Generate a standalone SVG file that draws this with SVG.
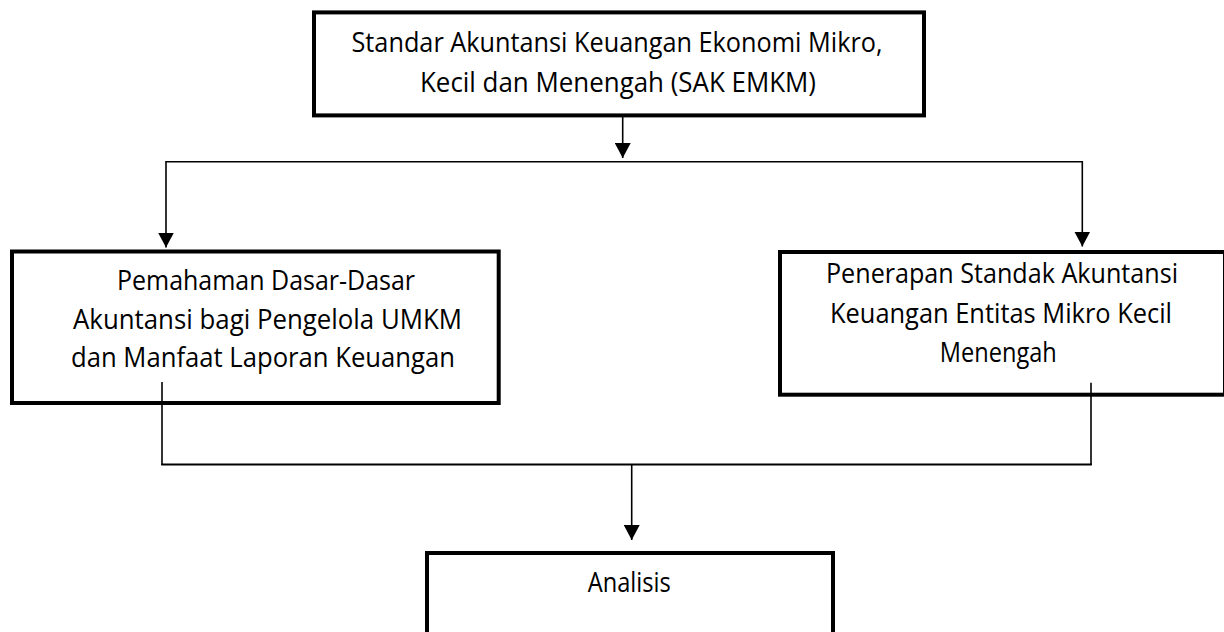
<svg xmlns="http://www.w3.org/2000/svg" width="1224" height="632" viewBox="0 0 1224 632">
<style>
.box{fill:#fff;stroke:#000;stroke-width:4}
.t{font-family:"Open Sans","Noto Sans","Liberation Sans",sans-serif;font-size:27px;fill:#000;text-anchor:middle}
.c{fill:none;stroke:#000;stroke-width:1.6}
.h{fill:none;stroke:#000;stroke-width:2}
</style>
<defs>
<marker id="arr" markerUnits="userSpaceOnUse" markerWidth="16" markerHeight="16" refX="15" refY="8" orient="auto" viewBox="0 0 16 16">
<path d="M0,0 L15,8 L0,16 Z" fill="#000"/>
</marker>
</defs>
<rect width="1224" height="632" fill="#fff"/>
<g id="connectors">
<line class="c" x1="622.7" y1="117" x2="622.7" y2="158" marker-end="url(#arr)"/>
<line class="c" x1="166" y1="161.7" x2="1082.3" y2="161.7"/>
<line class="c" x1="166" y1="161" x2="166" y2="247.5" marker-end="url(#arr)"/>
<line class="c" x1="1082.3" y1="161" x2="1082.3" y2="246.5" marker-end="url(#arr)"/>
<line class="c" x1="162" y1="382" x2="162" y2="465"/>
<line class="c" x1="1091" y1="382.7" x2="1091" y2="465"/>
<line class="h" x1="161.2" y1="464.5" x2="1091.8" y2="464.5"/>
<line class="c" x1="631.7" y1="464" x2="631.7" y2="540" marker-end="url(#arr)"/>
</g>
<g id="node-sak-emkm">
<rect class="box" x="314" y="12.4" width="610" height="103"/>
<text class="t" x="617" y="52.3" textLength="531" lengthAdjust="spacingAndGlyphs">Standar Akuntansi Keuangan Ekonomi Mikro,</text>
<text class="t" x="618" y="92" textLength="396" lengthAdjust="spacingAndGlyphs">Kecil dan Menengah (SAK EMKM)</text>
</g>
<g id="node-pemahaman">
<rect class="box" x="12" y="251.5" width="486.7" height="151.5" style="fill:none"/>
<text class="t" x="266" y="290" textLength="298" lengthAdjust="spacingAndGlyphs">Pemahaman Dasar-Dasar</text>
<text class="t" x="267.5" y="329" textLength="389" lengthAdjust="spacingAndGlyphs">Akuntansi bagi Pengelola UMKM</text>
<text class="t" x="263" y="367" textLength="384" lengthAdjust="spacingAndGlyphs">dan Manfaat Laporan Keuangan</text>
</g>
<g id="node-penerapan">
<rect class="box" x="780" y="252" width="445" height="142.7" style="fill:none"/>
<text class="t" x="1002" y="283.3" textLength="352" lengthAdjust="spacingAndGlyphs">Penerapan Standak Akuntansi</text>
<text class="t" x="1001" y="323" textLength="342" lengthAdjust="spacingAndGlyphs">Keuangan Entitas Mikro Kecil</text>
<text class="t" x="998.3" y="362" textLength="117" lengthAdjust="spacingAndGlyphs">Menengah</text>
</g>
<g id="node-analisis">
<rect class="box" x="427" y="553" width="406" height="100"/>
<text class="t" x="629.3" y="592.3" textLength="83" lengthAdjust="spacingAndGlyphs">Analisis</text>
</g>
</svg>
